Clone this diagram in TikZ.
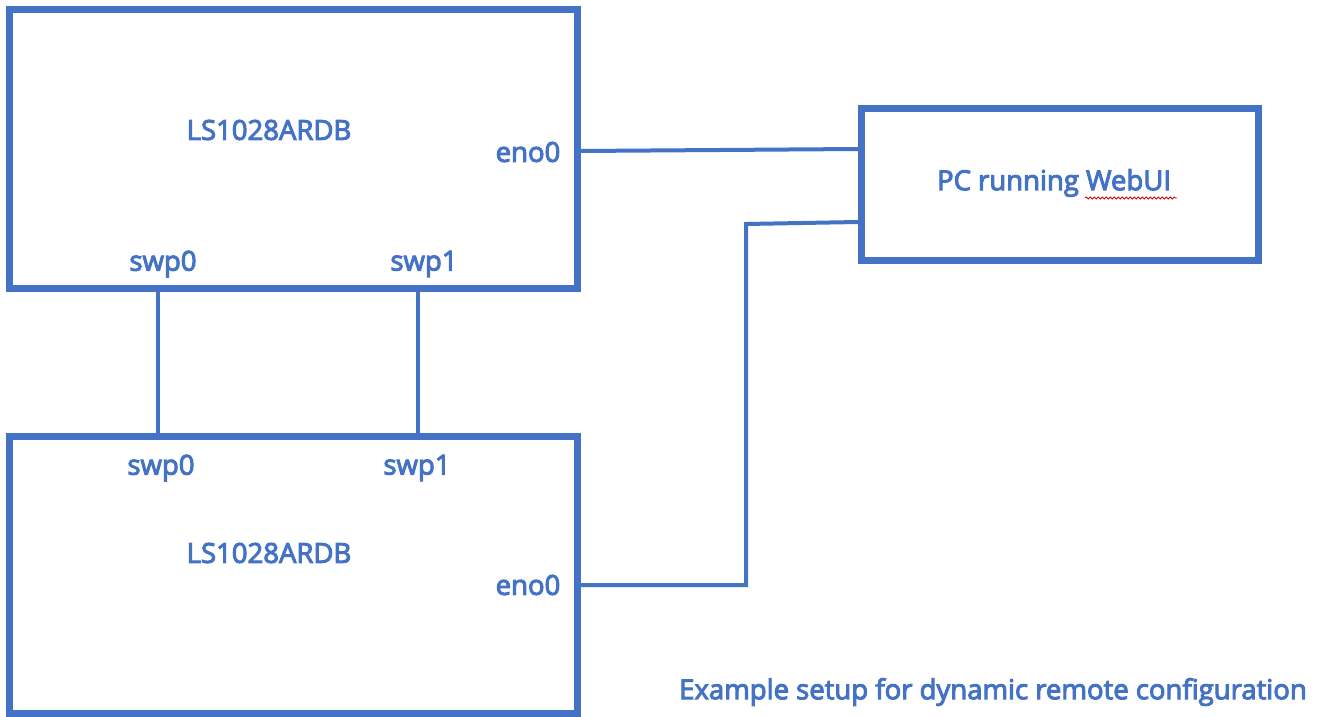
\documentclass[tikz,border=0pt]{standalone}
\usepackage{fontspec}
\setmainfont{Open Sans}
\newfontfamily\lblfont{Open Sans}[FakeBold=3.6]
\usetikzlibrary{decorations.pathmorphing}
\definecolor{msblue}{HTML}{4472C4}
\tikzset{
  board/.style={draw=msblue, line width=7pt, rectangle, inner sep=0pt},
  wire/.style={draw=msblue, line width=4pt},
  lbl/.style={text=msblue, font=\lblfont\fontsize{27.5}{32}\selectfont, inner sep=0pt},
}
\begin{document}
\begin{tikzpicture}[x=1pt,y=-1pt]
\useasboundingbox[fill=white] (0,0) rectangle (1328,717);
\node[board, minimum width=568pt, minimum height=279pt] (b1) at (293.5,149) {};
\node[board, minimum width=568pt, minimum height=276.5pt] (b2) at (293.5,574.75) {};
\node[board, minimum width=397pt, minimum height=152pt] (pc) at (1060,184.5) {};
% labels
\node[lbl] (t1) at (269,130) {LS1028ARDB};
\node[lbl] (e1) at (528,152) {eno0};
\node[lbl] (s10) at (163,264) {swp0};
\node[lbl] (s11) at (424,264) {swp1};
\node[lbl] (s20) at (161,468) {swp0};
\node[lbl] (s21) at (417,468) {swp1};
\node[lbl] (t2) at (269,553) {LS1028ARDB};
\node[lbl] (e2) at (528,585) {eno0};
\node[lbl] (pct) at (1054,183) {PC running WebUI};
\node[lbl] (cap) at (993,692) {Example setup for dynamic remote configuration};
% spell-check squiggle
\coordinate (sq1) at (1085,198);
\coordinate (sq2) at (1177,198);
\draw[red!85!black, line width=0.8pt, decorate, decoration={snake, amplitude=1pt, segment length=4pt}] (sq1) -- (sq2);
% wires
\draw[wire] ([yshift=-2pt]b1.east) -- ([yshift=35.5pt]pc.west);
\draw[wire] ([yshift=-37.5pt]pc.west) -- (746,224) |- ([yshift=-10.25pt]b2.east);
\draw[wire] (b1.south -| 158,0) -- (b2.north -| 158,0);
\draw[wire] (b1.south -| 418,0) -- (b2.north -| 418,0);
\end{tikzpicture}
\end{document}
